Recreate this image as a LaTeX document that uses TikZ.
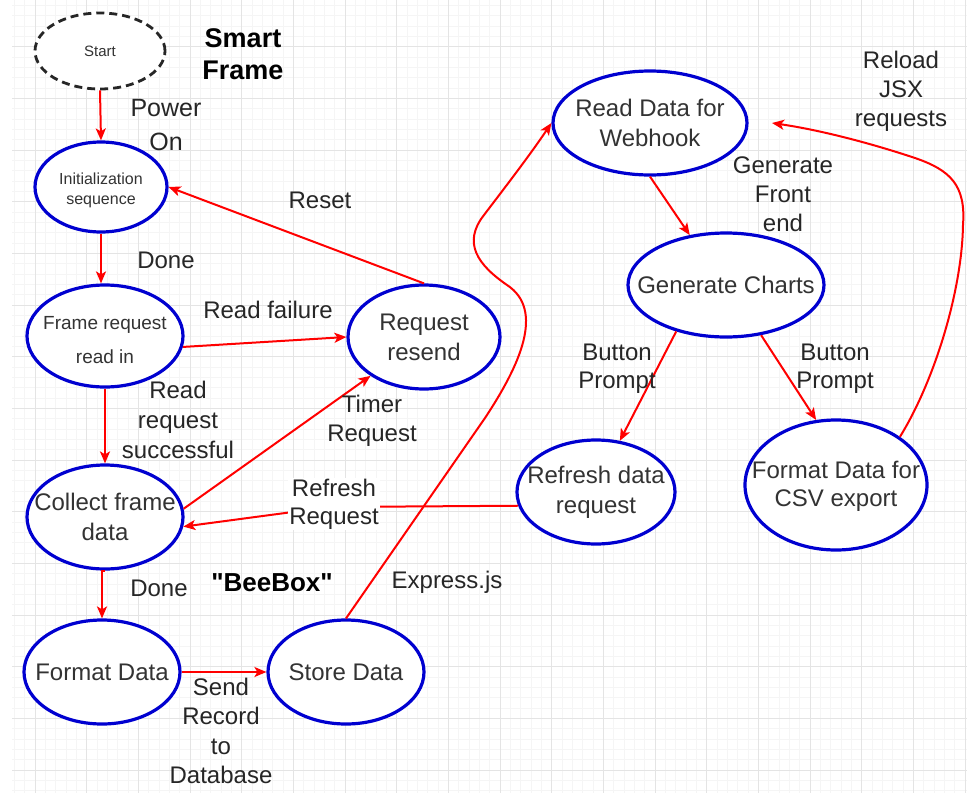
\documentclass[tikz,border=0pt]{standalone}
\usepackage{fontspec}
\setmainfont{Liberation Sans}[Ligatures=TeXOff]
\usetikzlibrary{shapes.geometric,arrows.meta}
\definecolor{edgered}{HTML}{FF0000}
\definecolor{nodeblue}{HTML}{0000D0}
\definecolor{txt}{HTML}{333333}
\definecolor{gridminor}{HTML}{F5F5F5}
\definecolor{gridmajor}{HTML}{E4E4E4}
\tikzset{
  statebox/.style={ellipse, draw=nodeblue, line width=3.2pt, fill=white, inner sep=0pt},
  startbox/.style={ellipse, draw=black!85, dash pattern=on 8pt off 5pt, line width=2.8pt, fill=white, inner sep=0pt},
  statetext/.style={text=txt, align=center, inner sep=0pt, font=\fontsize{24}{30}\selectfont},
  edge/.style={draw=edgered, line width=2pt, -{Stealth[length=12pt,width=10pt,inset=3pt]}},
  lbl/.style={text=black!85, align=center, inner sep=1pt, font=\fontsize{24}{29}\selectfont},
  boldlbl/.style={text=black, align=center, inner sep=1pt, font=\bfseries\fontsize{27}{32}\selectfont},
}
\newcommand\statenode[5]{%
  \node[statebox, minimum width=#3, minimum height=#4] (#1) at #2 {};
  \node[statetext] (#1-t) at (#1) {#5};}
\begin{document}
\begin{tikzpicture}[x=1pt,y=-1pt]
\useasboundingbox (0,0) rectangle (967,793);
\fill[white] (0,0) rectangle (967,793);
% grid
\begin{scope}
\clip (12,0) rectangle (967,793);
\foreach \i in {0,...,92} \draw[gridminor, line width=0.7pt] ({14.333+10.3333*\i},0) -- ++(0,793);
\foreach \i in {0,...,76} \draw[gridminor, line width=0.7pt] (12,{5.333+10.3333*\i}) -- ++(955,0);
\foreach \i in {0,...,18} \draw[gridmajor, line width=1pt] ({35+51.667*\i},0) -- ++(0,793);
\foreach \i in {1,...,15} \draw[gridmajor, line width=1pt] (12,{-5+51.667*\i}) -- ++(955,0);
\end{scope}

% nodes
\node[startbox, minimum width=130pt, minimum height=76pt] (start) at (100,51) {};
\node[statetext, font=\fontsize{15}{18}\selectfont] (start-t) at (start) {Start};
\statenode{init}{(101,187)}{132pt}{90pt}{}
\node[statetext, font=\fontsize{16}{20}\selectfont] (init-t2) at (101,190) {Initialization\\sequence};
\statenode{frame}{(105,336)}{156pt}{102pt}{}
\node[statetext, font=\fontsize{19}{34}\selectfont] (frame-t2) at (105,340) {Frame request\\read in};
\statenode{resend}{(424,337)}{152pt}{104pt}{Request\\resend}
\statenode{collect}{(105,517)}{156pt}{104pt}{Collect frame\\data}
\statenode{format}{(102,672)}{156pt}{104pt}{Format Data}
\statenode{store}{(346,672)}{156pt}{104pt}{Store Data}
\statenode{webhook}{(650,123)}{194pt}{104pt}{Read Data for\\Webhook}
\statenode{charts}{(726,285)}{196pt}{104pt}{Generate Charts}
\statenode{refresh}{(596,492)}{158pt}{104pt}{Refresh data\\request}
\statenode{csv}{(836,485)}{182pt}{130pt}{}
\node[statetext, font=\fontsize{24}{28}\selectfont] (csv-t2) at (836,486) {Format Data for\\CSV export};
\coordinate (reloadend) at (772,123);

% edges
\draw[edge] (start.south) -- (init.north);
\draw[edge] (init.south) -- (init.south |- frame.north);
\draw[edge] (frame.south) -- (frame.south |- collect.north);
\draw[edge] (collect.south) -- (collect.south -| format.north) -- (format.north);
\draw[edge] (format.east) -- (store.west);
\draw[edge] (frame.-8) -- (resend.west);
\draw[edge] (collect.6) -- (resend.216);
\draw[edge] (resend.north) -- (init.east);
\draw[edge] (refresh.190) -- (330,507) -- (collect.-7);
\draw[edge] (webhook.south) -- (charts.126);
\draw[edge] (charts.223) -- (refresh.65);
\draw[edge] (charts.-55) -- (csv.107);
\draw[edge] (store.north) -- (485,418) .. controls (520,365) and (545,310) .. (507,285)
  .. controls (478,265) and (462,243) .. (484,215) .. controls (503,190) and (530,155) .. (webhook.west);
\draw[edge] (csv.37) .. controls (935,380) and (962,290) .. (963,225)
  .. controls (966,185) and (950,170) .. (915,158) .. controls (870,143) and (820,130) .. (reloadend);

% labels
\node[boldlbl] (smart) at (243,54) {Smart\\Frame};
\node[lbl, font=\fontsize{25}{34}\selectfont] (poweron) at (166,125) {Power\\On};
\node[lbl] (done1) at (166,260) {Done};
\node[lbl] (reset) at (320,200) {Reset};
\node[lbl] (readfail) at (268,310) {Read failure};
\node[lbl, font=\fontsize{24}{30}\selectfont] (readok) at (178,420) {Read\\request\\successful};
\node[lbl, font=\fontsize{24}{28.5}\selectfont] (timer) at (372,421) {Timer\\Request};
\node[lbl, fill=white, font=\fontsize{24}{28}\selectfont] (refreshlbl) at (334,504) {Refresh\\Request};
\node[lbl] (done2) at (159,588) {Done};
\node[boldlbl, font=\bfseries\fontsize{26}{30}\selectfont] (beebox) at (272,583) {"BeeBox"};
\node[lbl] (express) at (447,582) {Express.js};
\node[lbl, font=\fontsize{24}{29.5}\selectfont] (sendrec) at (221,731) {Send\\Record\\to\\Database};
\node[lbl] (genfront) at (783,194) {Generate\\Front\\end};
\node[lbl] (reload) at (901,91) {Reload\\JSX\\requests};
\node[lbl, font=\fontsize{24}{28}\selectfont] (btn1) at (617,369) {Button\\Prompt};
\node[lbl, font=\fontsize{24}{28}\selectfont] (btn2) at (835,369) {Button\\Prompt};
\end{tikzpicture}
\end{document}
